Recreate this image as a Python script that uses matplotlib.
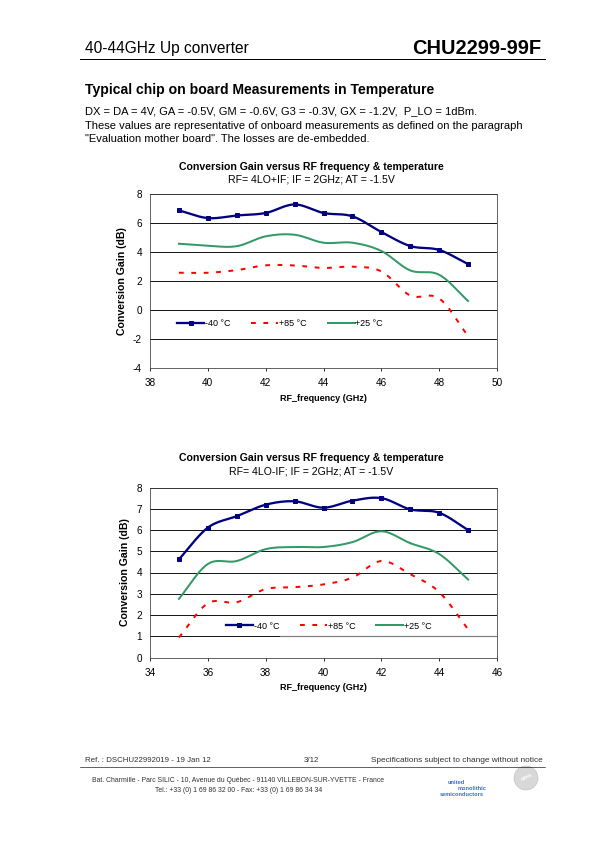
import numpy as np
import matplotlib
matplotlib.use("Agg")
import matplotlib.pyplot as plt
from matplotlib.patches import Ellipse

plt.rcParams['font.family'] = ['Liberation Sans', 'DejaVu Sans']
plt.rcParams['axes.unicode_minus'] = False

# chart 1 : RF = 4LO+IF
freq1 = [39, 40, 41, 42, 43, 44, 45, 46, 47, 48, 49]
m40_1 = [6.87, 6.34, 6.52, 6.69, 7.28, 6.69, 6.46, 5.38, 4.41, 4.14, 3.17]
p85_1 = [2.57, 2.57, 2.75, 3.08, 3.07, 2.9, 2.99, 2.66, 1.0, 0.8, -1.8]
p25_1 = [4.57, 4.43, 4.4, 5.08, 5.19, 4.64, 4.64, 4.07, 2.73, 2.43, 0.62]

# chart 2 : RF = 4LO-IF
freq2 = [35, 36, 37, 38, 39, 40, 41, 42, 43, 44, 45]
m40_2 = [4.62, 6.11, 6.65, 7.19, 7.35, 7.05, 7.38, 7.5, 6.97, 6.81, 6.0]
p85_2 = [0.94, 2.55, 2.6, 3.22, 3.31, 3.44, 3.76, 4.54, 3.92, 3.08, 1.33]
p25_2 = [2.76, 4.4, 4.54, 5.1, 5.2, 5.2, 5.43, 5.94, 5.38, 4.87, 3.67]

labels = ["-40 \u00b0C", "+85 \u00b0C", "+25 \u00b0C"]
NAVY = "#000080"
RED = "#ff0000"
GREEN = "#339966"


def smooth(x, y, n=24):
    # Excel style smoothed line (Catmull-Rom through the measured points)
    x = np.asarray(x, float)
    y = np.asarray(y, float)
    px = np.concatenate([[2 * x[0] - x[1]], x, [2 * x[-1] - x[-2]]])
    py = np.concatenate([[2 * y[0] - y[1]], y, [2 * y[-1] - y[-2]]])
    xs, ys = [], []
    t = np.linspace(0, 1, n)
    for i in range(1, len(px) - 2):
        for P, out in ((px, xs), (py, ys)):
            p0, p1, p2, p3 = P[i - 1], P[i], P[i + 1], P[i + 2]
            out.extend(0.5 * ((2 * p1) + (-p0 + p2) * t
                              + (2 * p0 - 5 * p1 + 4 * p2 - p3) * t ** 2
                              + (-p0 + 3 * p1 - 3 * p2 + p3) * t ** 3))
    return xs, ys


def chart(ax, f, m40, p85, p25, xlim, ylim, yticks, xticks, leg_anchor):
    ax.plot(*smooth(f, m40), color=NAVY, lw=2.3, label=labels[0],
            marker="s", markersize=4, markevery=[])
    ax.plot(f, m40, ls="none", marker="s", markersize=4.2, color=NAVY)
    ax.plot(*smooth(f, p85), color=RED, lw=2.0, ls=(0, (2.4, 3.8)), label=labels[1])
    ax.plot(*smooth(f, p25), color=GREEN, lw=2.0, label=labels[2])
    ax.set_xlim(*xlim)
    ax.set_ylim(*ylim)
    ax.set_xticks(xticks)
    ax.set_yticks(yticks)
    ax.yaxis.grid(True, color="black", lw=0.9)
    ax.set_axisbelow(True)
    ax.tick_params(axis="x", labelsize=10, length=3, width=0.8, direction="out", pad=7)
    ax.tick_params(axis="y", labelsize=10, length=0, pad=8)
    for s in ax.spines.values():
        s.set_color("#404040")
        s.set_linewidth(0.8)
    ax.set_ylabel("Conversion Gain (dB)", fontsize=10.5, fontweight="bold", labelpad=6)
    ax.set_xlabel("RF_frequency (GHz)", fontsize=9, fontweight="bold", labelpad=6)
    h, l = ax.get_legend_handles_labels()
    h[0].set_markevery([len(h[0].get_xdata()) // 2])
    lg = ax.legend(h, l, ncol=3, frameon=False, fontsize=9, loc="center",
                   bbox_to_anchor=leg_anchor, handlelength=3.0, handletextpad=0.1,
                   columnspacing=2.3)
    return lg


fig = plt.figure(figsize=(595 / 72, 842 / 72), dpi=72)
W, H = 595.0, 842.0


def T(x, y, s, **kw):
    fig.text(x / W, 1 - y / H, s, **kw)


# header
T(85, 48, "40-44GHz Up converter", fontsize=15.5, va="center")
T(541, 48, "CHU2299-99F", fontsize=20, fontweight="bold", va="center", ha="right")
fig.add_artist(plt.Line2D([80 / W, 545 / W], [1 - 59 / H, 1 - 59 / H], color="black", lw=1))

T(85, 90, "Typical chip on board Measurements in Temperature", fontsize=14,
  fontweight="bold", va="center")
T(85, 111, "DX = DA = 4V, GA = -0.5V, GM = -0.6V, G3 = -0.3V, GX = -1.2V,  P_LO = 1dBm.",
  fontsize=11.1, va="center")
T(85, 126, "These values are representative of onboard measurements as defined on the paragraph",
  fontsize=11.1, va="center")
T(85, 139, "\"Evaluation mother board\". The losses are de-embedded.", fontsize=11.1, va="center")

# chart 1
ax1 = fig.add_axes([150 / W, 1 - 368 / H, 347 / W, 174 / H])
chart(ax1, freq1, m40_1, p85_1, p25_1, (38, 50), (-4, 8), range(-4, 9, 2),
      range(38, 51, 2), (0.375, 0.255))
T(311, 167, "Conversion Gain versus RF frequency & temperature", fontsize=10.5,
  fontweight="bold", ha="center", va="center")
T(311, 180, "RF= 4LO+IF; IF = 2GHz; AT = -1.5V", fontsize=10.5, ha="center", va="center")

# chart 2
ax2 = fig.add_axes([150 / W, 1 - 657.5 / H, 347 / W, 170 / H])
chart(ax2, freq2, m40_2, p85_2, p25_2, (34, 46), (0, 8), range(0, 9, 1),
      range(34, 47, 2), (0.515, 0.185))
ax2.plot([38.5, 46], [1, 1], color="#808080", lw=1.2, zorder=1.5)
T(311, 458, "Conversion Gain versus RF frequency & temperature", fontsize=10.5,
  fontweight="bold", ha="center", va="center")
T(311, 472, "RF= 4LO-IF; IF = 2GHz; AT = -1.5V", fontsize=10.5, ha="center", va="center")

# footer
T(85, 761, "Ref. : DSCHU22992019 - 19 Jan 12", fontsize=7.9, va="center", color="#333333")
T(311, 761, "3/12", fontsize=7.9, va="center", ha="center", color="#333333")
T(543, 761, "Specifications subject to change without notice", fontsize=8.2,
  va="center", ha="right", color="#333333")
fig.add_artist(plt.Line2D([80 / W, 545 / W], [1 - 767 / H, 1 - 767 / H], color="black", lw=0.6))
T(238, 780, "Bat. Charmille - Parc SILIC - 10, Avenue du Qu\u00e9bec - 91140 VILLEBON-SUR-YVETTE - France",
  fontsize=6.9, ha="center", va="center", color="#333333")
T(239, 790, "Tel.: +33 (0) 1 69 86 32 00 - Fax: +33 (0) 1 69 86 34 34",
  fontsize=6.9, ha="center", va="center", color="#333333")
T(456, 783, "united", fontsize=5.6, fontweight="bold", color="#3a6ebf", ha="center", va="center")
T(472, 788.5, "monolithic", fontsize=5.6, fontweight="bold", color="#3a6ebf", ha="center", va="center")
T(462, 794, "semiconductors", fontsize=5.6, fontweight="bold", color="#3a6ebf", ha="center", va="center")
fig.add_artist(Ellipse((526 / W, 1 - 778 / H), 24 / W, 24 / H, transform=fig.transFigure,
                       facecolor="#d8d8d8", edgecolor="#b8b8b8", lw=0.5))
T(527, 777, "ums", fontsize=6, color="white", fontweight="bold", ha="center", va="center", rotation=25)

fig.savefig("out.png", dpi=72)
